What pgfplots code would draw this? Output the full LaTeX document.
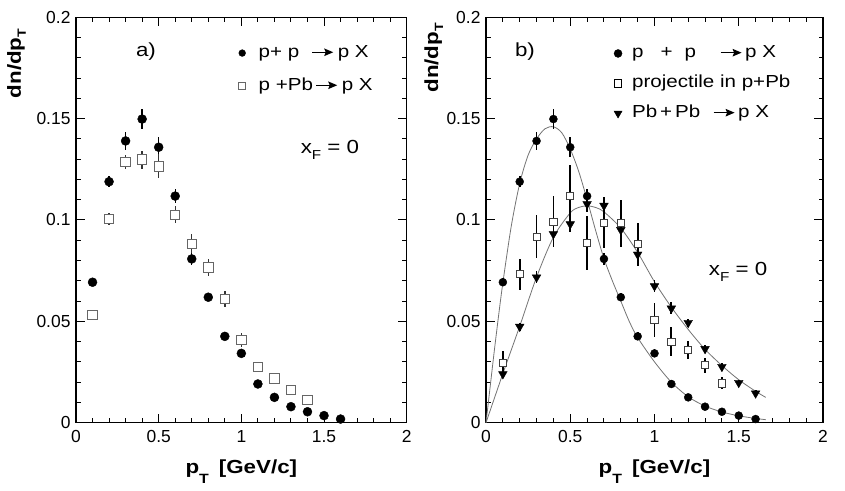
\documentclass[border=0pt]{standalone}
\usepackage{fontspec}
\setmainfont{Liberation Sans}
\newfontfamily\lab{Liberation Sans}[FakeStretch=1.18]
\usepackage{pgfplots}
\usepackage{pgfplotstable}
\pgfplotsset{compat=1.18}
\usetikzlibrary{arrows.meta}

\newcommand{\arr}{\tikz[baseline=0pt]{\draw[black,line width=1.1bp,-{Stealth[length=9bp,width=7.5bp,inset=1.5bp]}](0bp,4.8bp)--(21bp,4.8bp);}}
\newcommand{\subT}[2]{\raisebox{#1}{\fontsize{#2}{#2}\selectfont T}}

\pgfplotstableread{
x y e
0.1 0.0693 0.0020
0.2 0.1189 0.0028
0.3 0.1390 0.0046
0.4 0.1498 0.0050
0.5 0.1359 0.0050
0.6 0.1118 0.0035
0.7 0.0808 0.0030
0.8 0.0619 0.0020
0.9 0.0426 0.0020
1.0 0.0342 0.0020
1.1 0.0191 0.0015
1.2 0.0125 0.0010
1.3 0.0079 0.0010
1.4 0.0054 0.0010
1.5 0.0035 0.0010
1.6 0.0018 0.0005
}\pptab

\pgfplotstableread{
x y e
0.1 0.0533 0.0020
0.2 0.1006 0.0030
0.3 0.1286 0.0035
0.4 0.1298 0.0044
0.5 0.1265 0.0060
0.6 0.1026 0.0042
0.7 0.0883 0.0046
0.8 0.0765 0.0043
0.9 0.0610 0.0041
1.0 0.0408 0.0033
1.1 0.0276 0.0020
1.2 0.0219 0.0020
1.3 0.0161 0.0015
1.4 0.0112 0.0015
}\pPbtab

\pgfplotstableread{
x y e
0.1 0.0296 0.0057
0.2 0.0732 0.0078
0.3 0.0918 0.0105
0.4 0.0992 0.0125
0.5 0.1120 0.0150
0.6 0.0885 0.0134
0.7 0.0987 0.0125
0.8 0.0984 0.0115
0.9 0.0880 0.0107
1.0 0.0507 0.0084
1.1 0.0400 0.0073
1.2 0.0359 0.0045
1.3 0.0283 0.0037
1.4 0.0194 0.0029
}\projtab

\pgfplotstableread{
x y e
0.1 0.0240 0.0020
0.2 0.0474 0.0020
0.3 0.0717 0.0030
0.4 0.0931 0.0040
0.5 0.0980 0.0040
0.6 0.1079 0.0040
0.7 0.1071 0.0040
0.8 0.0951 0.0040
0.9 0.0830 0.0040
1.0 0.0674 0.0030
1.1 0.0564 0.0030
1.2 0.0493 0.0020
1.3 0.0364 0.0020
1.4 0.0276 0.0020
1.5 0.0197 0.0015
1.6 0.0145 0.0015
}\PbPbtab

\pgfplotstableread{
x y
0 0
0.025 0.018
0.05 0.036
0.075 0.053
0.1 0.069
0.15 0.097
0.2 0.118
0.25 0.132
0.3 0.140
0.35 0.145
0.4 0.146
0.45 0.143
0.5 0.135
0.55 0.124
0.6 0.110
0.65 0.095
0.7 0.081
0.75 0.070
0.8 0.060
0.85 0.050
0.9 0.042
1.0 0.030
1.1 0.020
1.2 0.0128
1.3 0.0082
1.4 0.0053
1.5 0.0034
1.6 0.0021
1.66 0.0015
}\ppfit

\pgfplotstableread{
x y
0 0
0.1 0.0242
0.2 0.0476
0.3 0.0718
0.4 0.0915
0.5 0.1035
0.55 0.1062
0.6 0.1070
0.65 0.1062
0.7 0.1040
0.8 0.0960
0.9 0.0840
1.0 0.0695
1.1 0.0570
1.2 0.0460
1.3 0.0362
1.4 0.0282
1.5 0.0212
1.6 0.0155
1.66 0.0125
}\PbPbfit

\pgfplotsset{
 panel/.style={
  scale only axis, height=405.4bp,
  xmin=0, xmax=2, ymin=0, ymax=0.2,
  xtick={0,0.5,1,1.5,2}, ytick={0,0.05,0.1,0.15,0.2},
  minor x tick num=4, minor y tick num=4,
  tick align=inside,
  major tick length=9bp, minor tick length=4.5bp,
  axis line style={line width=1.2bp},
  tick style={line width=1bp, black},
  scaled y ticks=false, scaled x ticks=false,
  yticklabel style={/pgf/number format/fixed, /pgf/number format/precision=2, xshift=-2bp},
  xticklabel style={/pgf/number format/fixed, yshift=-4bp},
  ticklabel style={font=\fontsize{17.5}{17.5}\selectfont},
  /pgf/number format/assume math mode=true,
  clip=false,
  xlabel={\lab\bfseries\fontsize{19}{19}\selectfont p\subT{-10bp}{13.5}\hspace{10bp}[GeV/c]},
  ylabel={\lab\bfseries\fontsize{19}{19}\selectfont dn/dp\subT{-5bp}{12}},
  xlabel style={at={(axis description cs:0.5,-0.1264)}, anchor=base},
  legend style={draw=none, fill=none, inner sep=0pt, outer sep=0pt,
    font=\lab\fontsize{17.5}{17.5}\selectfont,
    nodes={inner sep=0pt, text height=12bp, text depth=4bp}},
  legend cell align=left,
 }
}

\begin{document}
\begin{tikzpicture}
\useasboundingbox (0,0) rectangle (845bp,491bp);

% ---------------- panel a
\begin{axis}[panel, width=330.7bp, at={(76bp,68.3bp)}, anchor=south west,
  ylabel style={at={(axis description cs:-0.167,0.886)}, anchor=base},
  legend style={at={(axis description cs:0.492,0.9315)}, anchor=north west,
    column sep=13bp, row sep=17bp}]
\addplot[forget plot, only marks, mark=*, mark size=4.5bp, black,
  error bars/.cd, y dir=both, y explicit, error mark=none,
  error bar style={line width=1.4bp, black}]
  table[x=x, y=y, y error=e] {\pptab};
\addplot[forget plot, only marks, mark=square*, mark size=4.7bp,
  mark options={fill=white, draw=black!60, line width=0.9bp},
  error bars/.cd, y dir=both, y explicit, error mark=none,
  error bar style={line width=1.4bp, black!80}]
  table[x=x, y=y, y error=e] {\pPbtab};
\addlegendimage{only marks, mark=*, mark size=3.4bp, black}
\addlegendentry{\makebox[53bp][l]{p+ p}\arr\hspace{4bp}p X}
\addlegendimage{only marks, mark=square*, mark size=3.5bp, mark options={fill=white, draw=black!60, line width=0.8bp}}
\addlegendentry{\makebox[57bp][l]{p +Pb}\arr\hspace{4bp}p X}
\node[font=\lab\fontsize{19}{19}\selectfont] at (axis cs:0.423,0.1829) {a)};
\node[font=\lab\fontsize{19}{19}\selectfont] at (axis cs:1.536,0.1346) {x\raisebox{-6bp}{\fontsize{13}{13}\selectfont F} = 0};
\end{axis}

% ---------------- panel b
\begin{axis}[panel, width=337bp, at={(486bp,68.3bp)}, anchor=south west,
  ylabel style={at={(axis description cs:-0.1424,0.900)}, anchor=base},
  legend style={at={(axis description cs:0.380,0.9305)}, anchor=north west,
    column sep=10bp, row sep=14bp}]
\addplot[forget plot, smooth, black!55, line width=0.8bp] table[x=x, y=y] {\ppfit};
\addplot[forget plot, smooth, black!55, line width=0.8bp] table[x=x, y=y] {\PbPbfit};
\addplot[forget plot, only marks, mark=*, mark size=4bp, black,
  error bars/.cd, y dir=both, y explicit, error mark=none,
  error bar style={line width=1.8bp, black}]
  table[x=x, y=y, y error=e] {\pptab};
\addplot[forget plot, only marks, mark=square*, mark size=3.6bp,
  mark options={fill=white, draw=black!75, line width=0.9bp},
  error bars/.cd, y dir=both, y explicit, error mark=none,
  error bar style={line width=1.8bp, black}]
  table[x=x, y=y, y error=e] {\projtab};
\addplot[forget plot, only marks, mark=triangle*, mark size=5bp,
  mark options={rotate=180, fill=black, draw=black},
  error bars/.cd, y dir=both, y explicit, error mark=none,
  error bar style={line width=1.8bp, black}]
  table[x=x, y=y, y error=e] {\PbPbtab};
\addlegendimage{only marks, mark=*, mark size=4bp, black}
\addlegendentry{\makebox[88bp][l]{p\hspace{17bp}+\hspace{12bp}p}\arr\hspace{3bp}p X}
\addlegendimage{only marks, mark=square*, mark size=3.8bp, mark options={fill=white, draw=black, line width=1bp}}
\addlegendentry{projectile in p+Pb}
\addlegendimage{only marks, mark=triangle*, mark size=4.6bp, mark options={rotate=180, fill=black, draw=black}}
\addlegendentry{\makebox[81bp][l]{Pb\hspace{3bp}+\hspace{3bp}Pb}\arr\hspace{3bp}p X}
\node[font=\lab\fontsize{19}{19}\selectfont] at (axis cs:0.231,0.1829) {b)};
\node[font=\lab\fontsize{19}{19}\selectfont] at (axis cs:1.496,0.0743) {x\raisebox{-6bp}{\fontsize{13}{13}\selectfont F} = 0};
\end{axis}
\end{tikzpicture}
\end{document}
